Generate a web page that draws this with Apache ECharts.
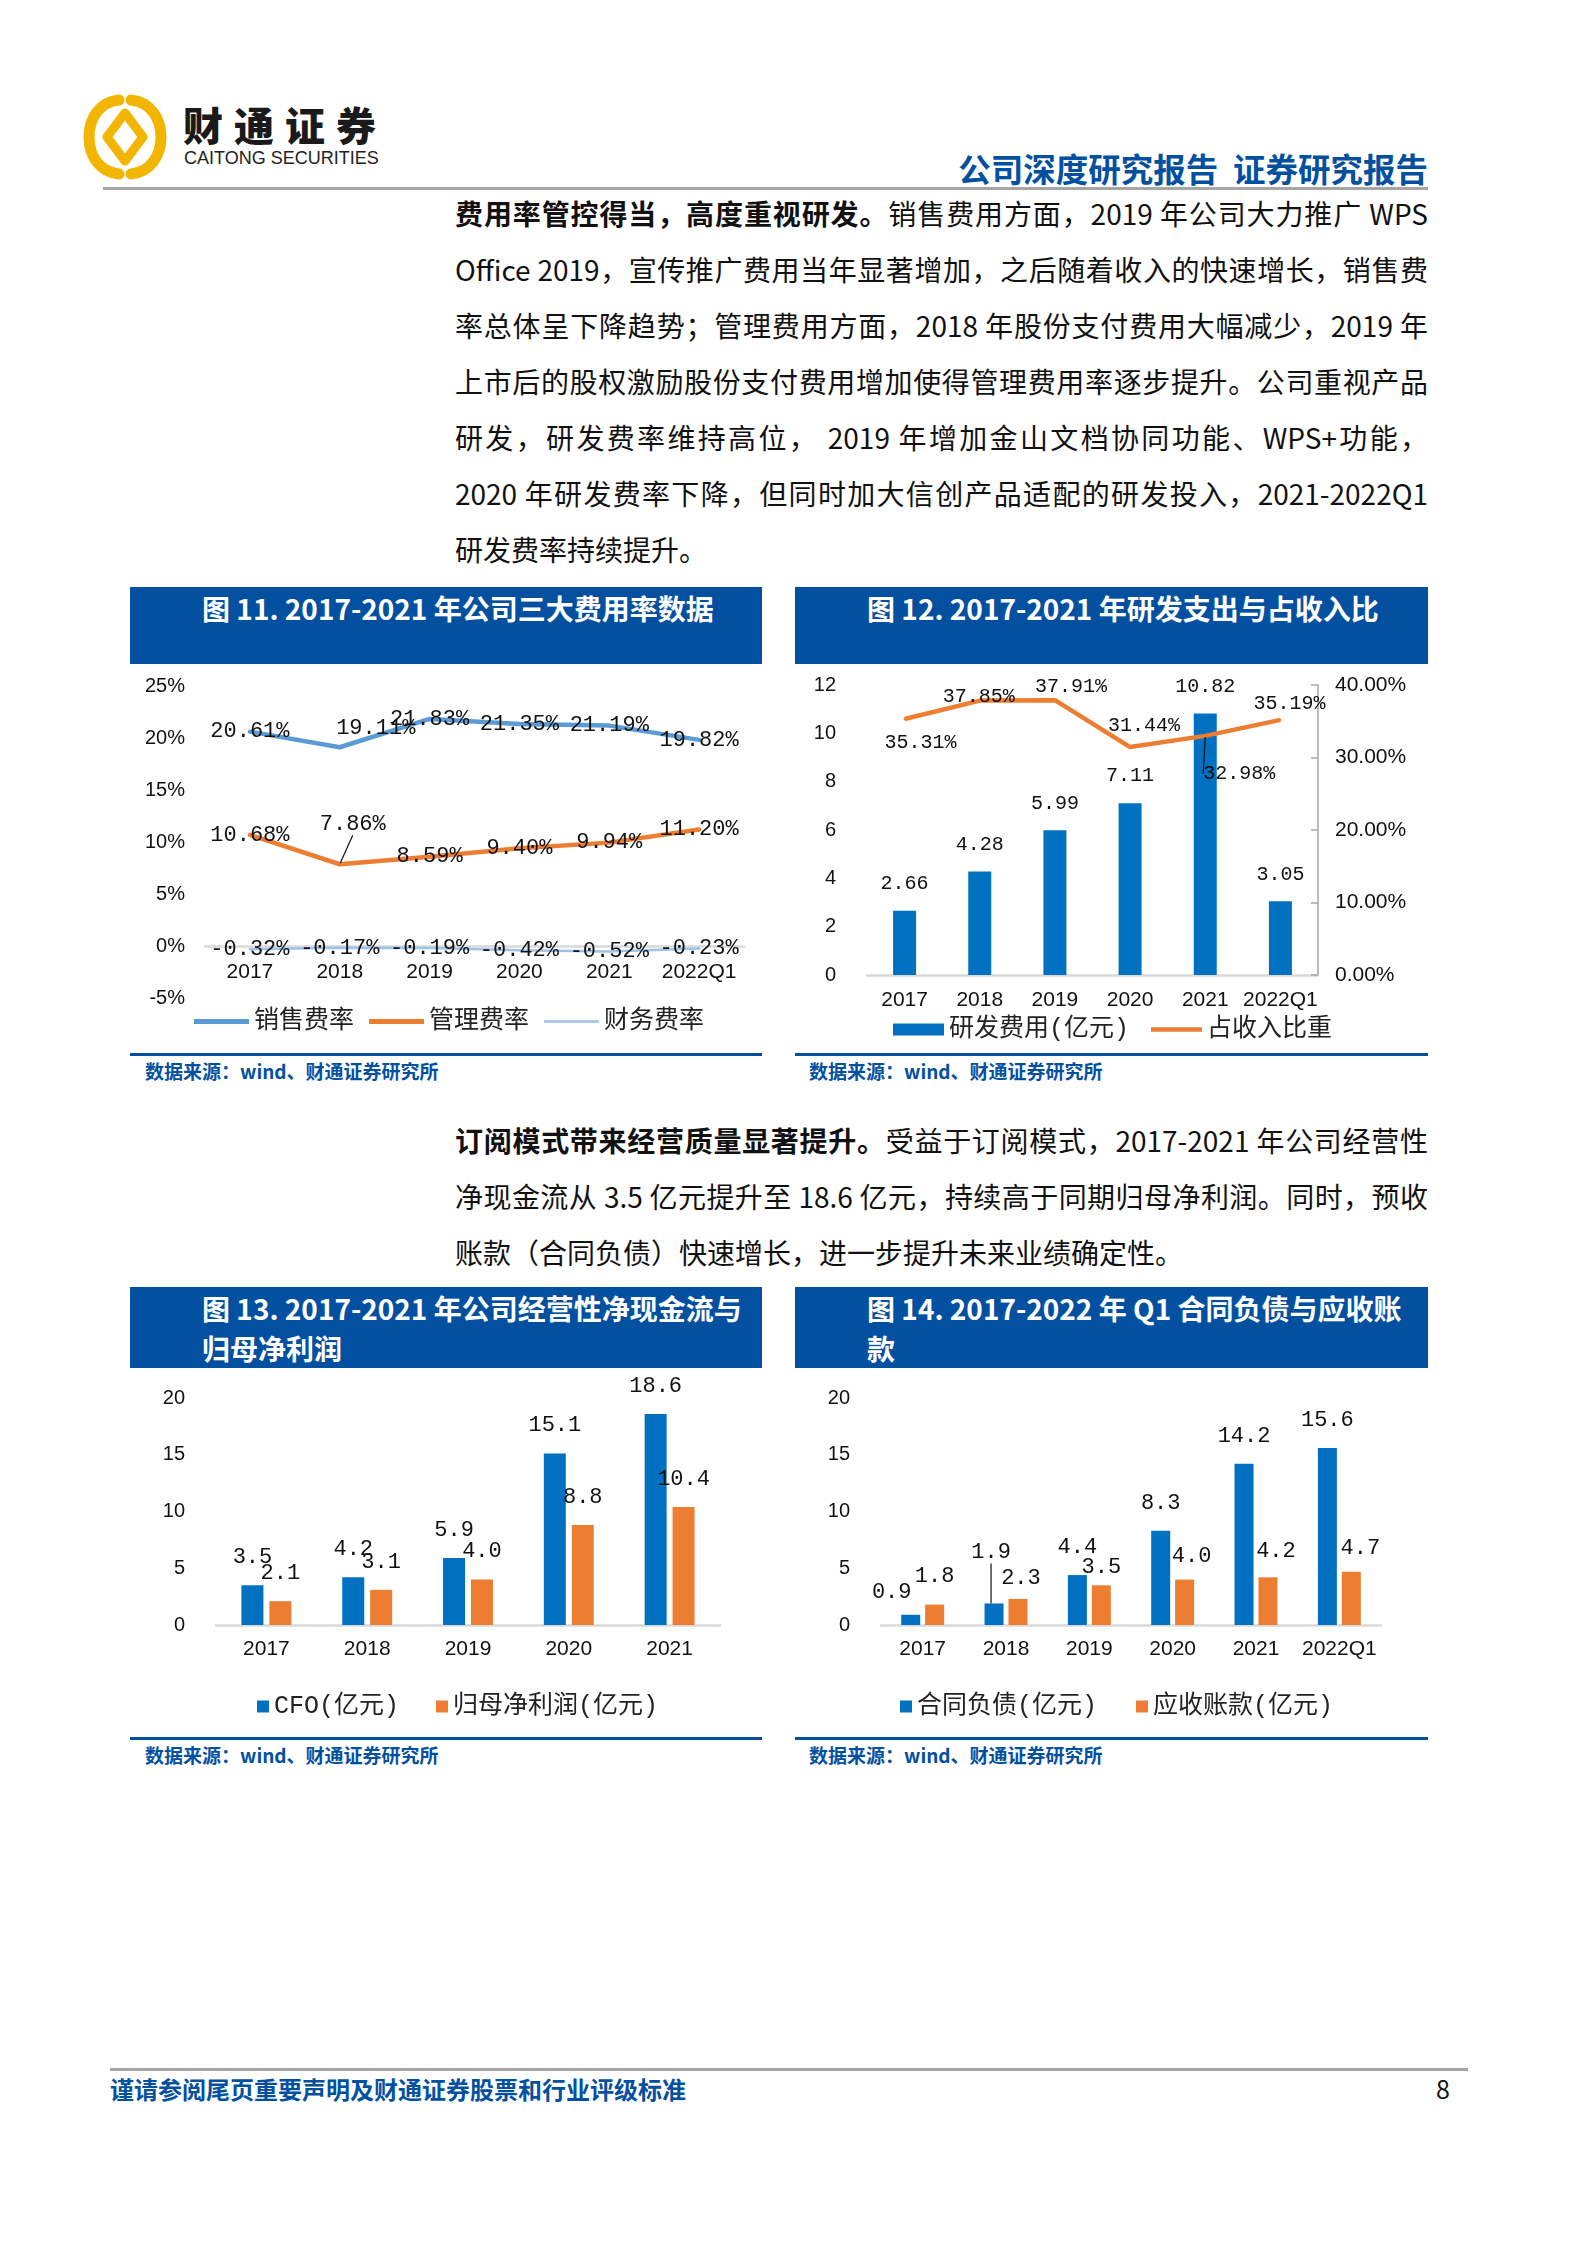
<!DOCTYPE html>
<html lang="zh-CN">
<head>
<meta charset="utf-8">
<title>财通证券 公司深度研究报告 第8页</title>
<script src="https://cdn.jsdelivr.net/npm/echarts@6/dist/echarts.min.js"></script>
<style>
  body { margin: 0; background: #fff; }
  #page { position: relative; width: 1587px; height: 2245px; overflow: hidden;
          font-family: 'Noto Sans CJK SC', sans-serif; color: #111; }
  .abs { position: absolute; }
  .para { position: absolute; left: 455px; width: 973px; font-size: 28px; }
  .para div { height: 56px; line-height: 56px; text-align: justify; text-align-last: justify; }
  .para div.last { text-align-last: left; }
  .para b { font-weight: 700; }
  .banner { position: absolute; background: #0450a0; color: #fff; font-weight: 700;
            font-size: 28px; line-height: 40px; padding: 1px 0 0 72px; box-sizing: border-box; white-space: nowrap; }
  .rule { position: absolute; height: 3px; background: #0450a0; }
  .source { position: absolute; font-size: 19px; font-weight: 700; color: #0450a0; line-height: 24px; white-space: nowrap; }
  .chart { position: absolute; }
</style>
</head>
<body>
<div id="page">
  <!-- 页眉 -->
  <svg class="abs" style="left:83px;top:93px" width="84" height="88" viewBox="0 0 84 88">
    <g fill="none" stroke="#f3b600" stroke-linecap="round">
      <path d="M36 7 C 16 9, 6 26, 6 44 C 6 62, 16 79, 36 81" stroke-width="11"/>
      <path d="M48 7 C 68 9, 78 26, 78 44 C 78 62, 68 79, 48 81" stroke-width="11"/>
      <path d="M42 20 L 60 44 L 42 68 L 24 44 Z" stroke-width="9" stroke-linejoin="round"/>
    </g>
  </svg>
  <div class="abs" style="left:183px;top:100px;font-size:40px;font-weight:900;letter-spacing:11px;line-height:48px;color:#1a1a1a;">财通证券</div>
  <div class="abs" style="left:184px;top:148px;font-size:18px;line-height:20px;color:#222;font-family:'Liberation Sans','Noto Sans',sans-serif;">CAITONG SECURITIES</div>
  <div class="abs" style="right:159px;top:147px;font-size:32.5px;font-weight:700;line-height:42px;color:#0450a0;white-space:nowrap;">公司深度研究报告&nbsp;&nbsp;证券研究报告</div>
  <div class="abs" style="left:103px;top:187px;width:1325px;height:3px;background:#a6a6a6;"></div>

  <!-- 正文一 -->
  <div class="para" style="top:185px;">
    <div><b>费用率管控得当，高度重视研发。</b>销售费用方面，2019 年公司大力推广 WPS</div>
    <div>Office 2019，宣传推广费用当年显著增加，之后随着收入的快速增长，销售费</div>
    <div>率总体呈下降趋势；管理费用方面，2018 年股份支付费用大幅减少，2019 年</div>
    <div>上市后的股权激励股份支付费用增加使得管理费用率逐步提升。公司重视产品</div>
    <div>研发，研发费率维持高位， 2019 年增加金山文档协同功能、WPS+功能，</div>
    <div>2020 年研发费率下降，但同时加大信创产品适配的研发投入，2021-2022Q1</div>
    <div class="last">研发费率持续提升。</div>
  </div>

  <!-- 图11 / 图12 -->
  <div class="banner" style="left:130px;top:587px;width:632px;height:77px;">图 11. 2017-2021 年公司三大费用率数据</div>
  <div class="banner" style="left:795px;top:587px;width:633px;height:77px;">图 12. 2017-2021 年研发支出与占收入比</div>
  <div id="chart11" class="chart" style="left:130px;top:664px;width:632px;height:388px;"></div>
  <div id="chart12" class="chart" style="left:795px;top:664px;width:633px;height:388px;"></div>
  <div class="rule" style="left:130px;top:1053px;width:632px;"></div>
  <div class="rule" style="left:795px;top:1053px;width:633px;"></div>
  <div class="source" style="left:145px;top:1059px;">数据来源：wind、财通证券研究所</div>
  <div class="source" style="left:809px;top:1059px;">数据来源：wind、财通证券研究所</div>

  <!-- 正文二 -->
  <div class="para" style="top:1112px;">
    <div><b>订阅模式带来经营质量显著提升。</b>受益于订阅模式，2017-2021 年公司经营性</div>
    <div>净现金流从 3.5 亿元提升至 18.6 亿元，持续高于同期归母净利润。同时，预收</div>
    <div class="last">账款（合同负债）快速增长，进一步提升未来业绩确定性。</div>
  </div>

  <!-- 图13 / 图14 -->
  <div class="banner" style="left:130px;top:1287px;width:632px;height:81px;">图 13. 2017-2021 年公司经营性净现金流与<br>归母净利润</div>
  <div class="banner" style="left:795px;top:1287px;width:633px;height:81px;">图 14. 2017-2022 年 Q1 合同负债与应收账<br>款</div>
  <div id="chart13" class="chart" style="left:130px;top:1368px;width:632px;height:368px;"></div>
  <div id="chart14" class="chart" style="left:795px;top:1368px;width:633px;height:368px;"></div>
  <div class="rule" style="left:130px;top:1737px;width:632px;"></div>
  <div class="rule" style="left:795px;top:1737px;width:633px;"></div>
  <div class="source" style="left:145px;top:1743px;">数据来源：wind、财通证券研究所</div>
  <div class="source" style="left:809px;top:1743px;">数据来源：wind、财通证券研究所</div>

  <!-- 页脚 -->
  <div class="abs" style="left:110px;top:2068px;width:1358px;height:3px;background:#a6a6a6;"></div>
  <div class="abs" style="left:110px;top:2074px;font-size:24px;font-weight:700;line-height:30px;color:#0450a0;white-space:nowrap;">谨请参阅尾页重要声明及财通证券股票和行业评级标准</div>
  <div class="abs" style="left:1436px;top:2073px;font-size:25px;line-height:30px;color:#111;">8</div>
</div>

<script>
// 图11 三大费用率（%）
const feeYears = ['2017', '2018', '2019', '2020', '2021', '2022Q1']
const salesRate = [20.61, 19.11, 21.83, 21.35, 21.19, 19.82]
const adminRate = [10.68, 7.86, 8.59, 9.40, 9.94, 11.20]
const financeRate = [-0.32, -0.17, -0.19, -0.42, -0.52, -0.23]

// 图12 研发费用（亿元）与占收入比重（%）
const rdYears = ['2017', '2018', '2019', '2020', '2021', '2022Q1']
const rdCost = [2.66, 4.28, 5.99, 7.11, 10.82, 3.05]
const rdRatio = [35.31, 37.85, 37.91, 31.44, 32.98, 35.19]

// 图13 CFO 与归母净利润（亿元）
const cfoYears = ['2017', '2018', '2019', '2020', '2021']
const cfoValue = [3.5, 4.2, 5.9, 15.1, 18.6]
const netProfit = [2.1, 3.1, 4.0, 8.8, 10.4]

// 图14 合同负债与应收账款（亿元）
const debtYears = ['2017', '2018', '2019', '2020', '2021', '2022Q1']
const contractDebt = [0.9, 1.9, 4.4, 8.3, 14.2, 15.6]
const receivable = [1.8, 2.3, 3.5, 4.0, 4.2, 4.7]

const BLUE = '#0070c0'
const ORANGE = '#ed7d31'
const monoFont = "'Liberation Mono', 'DejaVu Sans Mono', monospace"
const axisFont = "'Liberation Sans', sans-serif"
const legendFont = "'Liberation Mono', 'Noto Sans CJK SC', sans-serif"

// 图例里的线段（粗细不同）
const thickBar = 'path://M0,0H55V5H0Z'
const thinBar = 'path://M0,0H55V2.6H0Z'

// 个别标签的偏移（避让），按 系列序号 -> 数据序号
const shift11 = { 0: { 1: [36, -19] }, 1: { 1: [13, -40] } }
const shift12 = { 1: { 0: [16, 24], 1: [-1, -4], 2: [16, -13], 3: [14, -21], 4: [34, 38], 5: [9, -16] } }
const shift14 = {
  0: { 0: [-19, 5], 1: [-3, -23] },
  1: { 1: [3, 7], 2: [0, 10], 3: [7, 5], 4: [8, 2], 5: [9, 5] }
}

const layoutBy = (table) => (p) => {
  const s = table[p.seriesIndex]
  const d = s && s[p.dataIndex]
  return d ? { dx: d[0], dy: d[1] } : {}
}

// 只给某个点显示引导线
const withGuide = (values, idx) => values.map((v, i) => i === idx ? { value: v, labelLine: { show: true } } : v)

const labelStyle = { fontFamily: monoFont, fontSize: 22, color: '#111' }
const catLabel = { fontFamily: axisFont, fontSize: 21, color: '#111', margin: 14, interval: 0 }
const valLabel = { fontFamily: axisFont, fontSize: 20, color: '#111' }
const guideLine = { lineStyle: { color: '#111', width: 1.2 } }

// ---------- 图11 ----------
const chart11 = echarts.init(document.getElementById('chart11'))
const pctLine = (name, data, color, width) => ({
  name,
  type: 'line',
  data,
  symbol: 'circle',
  symbolSize: 2,
  itemStyle: { color },
  lineStyle: { color, width, cap: 'round' },
  label: {
    show: true,
    position: 'inside',
    ...labelStyle,
    formatter: (p) => p.value.toFixed(2) + '%'
  },
  labelLine: { show: false, ...guideLine },
  labelLayout: layoutBy(shift11)
})
chart11.setOption({
  animation: false,
  grid: { left: 75, right: 18, top: 22, bottom: 54 },
  legend: {
    left: 59, top: 340, itemWidth: 55, itemHeight: 14, itemGap: 15,
    textStyle: { fontFamily: legendFont, fontSize: 25, color: '#222' },
    data: [
      { name: '销售费率', icon: thickBar },
      { name: '管理费率', icon: thickBar },
      { name: '财务费率', icon: thinBar }
    ]
  },
  xAxis: {
    type: 'category',
    data: feeYears,
    // 轴线放在 0% 处（-5% 到 0% 占 52px）
    offset: -52,
    axisLine: { onZero: false, lineStyle: { color: '#d9d9d9', width: 2.5 } },
    axisTick: { show: false },
    axisLabel: { ...catLabel, margin: 16 }
  },
  yAxis: {
    type: 'value', min: -5, max: 25, interval: 5,
    splitLine: { show: false }, axisLine: { show: false }, axisTick: { show: false },
    axisLabel: { ...valLabel, margin: 20, formatter: '{value}%' }
  },
  series: [
    pctLine('销售费率', salesRate, '#5b9bd5', 4.5),
    pctLine('管理费率', withGuide(adminRate, 1), ORANGE, 4.5),
    pctLine('财务费率', financeRate, '#9dc3e6', 2.5)
  ]
})

// ---------- 图12 ----------
const chart12 = echarts.init(document.getElementById('chart12'))
const label12 = { ...labelStyle, fontSize: 20 }
chart12.setOption({
  animation: false,
  grid: { left: 72, right: 110, top: 21, bottom: 77 },
  legend: {
    left: 93, top: 348, itemWidth: 51, itemHeight: 12, itemGap: 22,
    textStyle: { fontFamily: legendFont, fontSize: 25, color: '#222' },
    data: [
      { name: '研发费用(亿元)', icon: 'rect' },
      { name: '占收入比重', icon: 'path://M0,0H51V4.5H0Z' }
    ]
  },
  xAxis: {
    type: 'category',
    data: rdYears,
    axisLine: { lineStyle: { color: '#d9d9d9', width: 2.5 } },
    axisTick: { show: false },
    axisLabel: { ...catLabel, margin: 15 }
  },
  yAxis: [
    {
      type: 'value', min: 0, max: 12, interval: 2,
      splitLine: { show: false }, axisLine: { show: false }, axisTick: { show: false },
      axisLabel: { ...valLabel, margin: 31 }
    },
    {
      type: 'value', min: 0, max: 40, interval: 10, position: 'right',
      splitLine: { show: false },
      axisLine: { show: true, lineStyle: { color: '#a6a6a6', width: 1.5 } },
      axisTick: { show: true, inside: true, length: 7, lineStyle: { color: '#a6a6a6', width: 1.5 } },
      axisLabel: { ...valLabel, fontSize: 21, margin: 17, formatter: (v) => v.toFixed(2) + '%' }
    }
  ],
  series: [
    {
      name: '研发费用(亿元)',
      type: 'bar',
      data: rdCost,
      barWidth: 23,
      itemStyle: { color: BLUE },
      label: { show: true, position: 'top', distance: 17, ...label12, formatter: (p) => p.value.toFixed(2) }
    },
    {
      name: '占收入比重',
      type: 'line',
      yAxisIndex: 1,
      data: withGuide(rdRatio, 4),
      symbol: 'circle',
      symbolSize: 2,
      itemStyle: { color: ORANGE },
      lineStyle: { color: ORANGE, width: 4.5 },
      label: { show: true, position: 'inside', ...label12, formatter: (p) => p.value.toFixed(2) + '%' },
      labelLine: { show: false, ...guideLine },
      labelLayout: layoutBy(shift12)
    }
  ]
})

// ---------- 图13 / 图14 柱状图 ----------
const pairBar = (name, data, color, width, gap) => ({
  name,
  type: 'bar',
  data,
  barWidth: width,
  barGap: gap,
  itemStyle: { color },
  label: { show: true, position: 'top', distance: 17, ...labelStyle, formatter: (p) => p.value.toFixed(1) },
  labelLine: { show: false, ...guideLine }
})
const barOption = (cats, legendLeft, legendGap, right, series) => ({
  animation: false,
  grid: { left: 86, right, top: 30, bottom: 111 },
  legend: {
    left: legendLeft, top: 321, itemWidth: 12, itemHeight: 12, itemGap: legendGap, icon: 'rect',
    textStyle: { fontFamily: legendFont, fontSize: 25, color: '#222' }
  },
  xAxis: {
    type: 'category',
    data: cats,
    axisLine: { lineStyle: { color: '#d9d9d9', width: 2.5 } },
    axisTick: { show: false },
    axisLabel: catLabel
  },
  yAxis: {
    type: 'value', min: 0, max: 20, interval: 5,
    splitLine: { show: false }, axisLine: { show: false }, axisTick: { show: false },
    axisLabel: { ...valLabel, margin: 31 }
  },
  series
})

const chart13 = echarts.init(document.getElementById('chart13'))
chart13.setOption(barOption(cfoYears, 122, 37, 42, [
  pairBar('CFO(亿元)', cfoValue, BLUE, 22, '27%'),
  pairBar('归母净利润(亿元)', netProfit, ORANGE, 22, '27%')
]))

const chart14 = echarts.init(document.getElementById('chart14'))
const s14 = [
  pairBar('合同负债(亿元)', withGuide(contractDebt, 1), BLUE, 19, '26%'),
  pairBar('应收账款(亿元)', receivable, ORANGE, 19, '26%')
]
s14.forEach((s) => { s.labelLayout = layoutBy(shift14) })
chart14.setOption(barOption(debtYears, 100, 39, 47, s14))
</script>
</body>
</html>
